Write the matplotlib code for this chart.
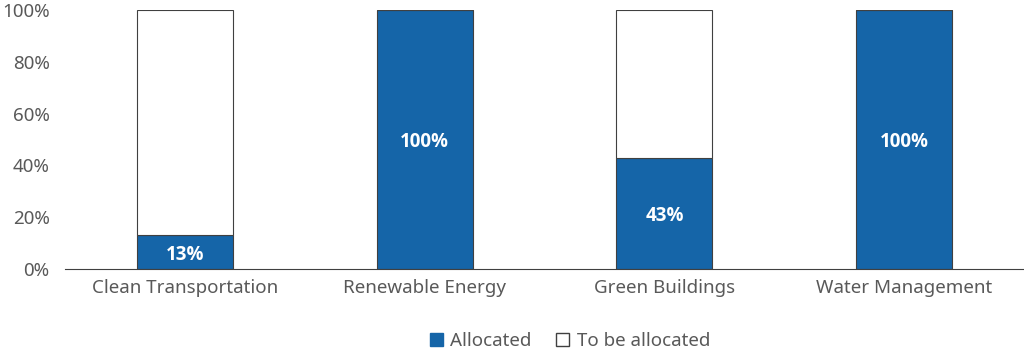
import matplotlib.pyplot as plt
from matplotlib.patches import Patch

categories = ['Clean Transportation', 'Renewable Energy', 'Green Buildings', 'Water Management']
allocated = [13, 100, 43, 100]
to_be_allocated = [87, 0, 57, 0]

blue = '#1565a8'
grey = '#595959'

plt.rcParams['font.family'] = ['Noto Sans', 'DejaVu Sans']

fig = plt.figure(figsize=(10.24, 3.56), dpi=100)
ax = fig.add_axes([65 / 1024, 87 / 356, 959 / 1024, 259 / 356])

x = range(len(categories))
ax.bar(x, allocated, width=0.4, color=blue, edgecolor='#404040', linewidth=0.8, zorder=2)
ax.bar(x, to_be_allocated, width=0.4, bottom=allocated, color='white',
       edgecolor='#404040', linewidth=0.8, zorder=2)

for i, v in enumerate(allocated):
    ax.text(i, v / 2 - 1, f'{v}%', ha='center', va='center', color='white',
            fontsize=13.5, fontweight='bold', family=['Open Sans', 'DejaVu Sans'])

ax.set_xlim(-0.5, 3.5)
ax.set_ylim(0, 100)
ax.set_yticks(range(0, 101, 20))
ax.set_yticklabels([f'{t}%' for t in range(0, 101, 20)])
ax.set_xticks(list(x))
ax.set_xticklabels(categories)
ax.tick_params(axis='both', length=0, labelsize=13.5, labelcolor=grey)
ax.tick_params(axis='x', pad=7)
ax.tick_params(axis='y', pad=11)
for s in ['top', 'right', 'left']:
    ax.spines[s].set_visible(False)
ax.spines['bottom'].set_color('#404040')

handles = [Patch(facecolor=blue, edgecolor=blue, label='Allocated'),
           Patch(facecolor='white', edgecolor='#404040', label='To be allocated')]
fig.legend(handles=handles, loc='center', bbox_to_anchor=(570 / 1024, 1 - 341 / 356),
           ncol=2, frameon=False, fontsize=13.5, labelcolor=grey,
           handlelength=0.7, handleheight=0.7, handletextpad=0.4, columnspacing=1.3)

fig.savefig('out.png', dpi=100)
